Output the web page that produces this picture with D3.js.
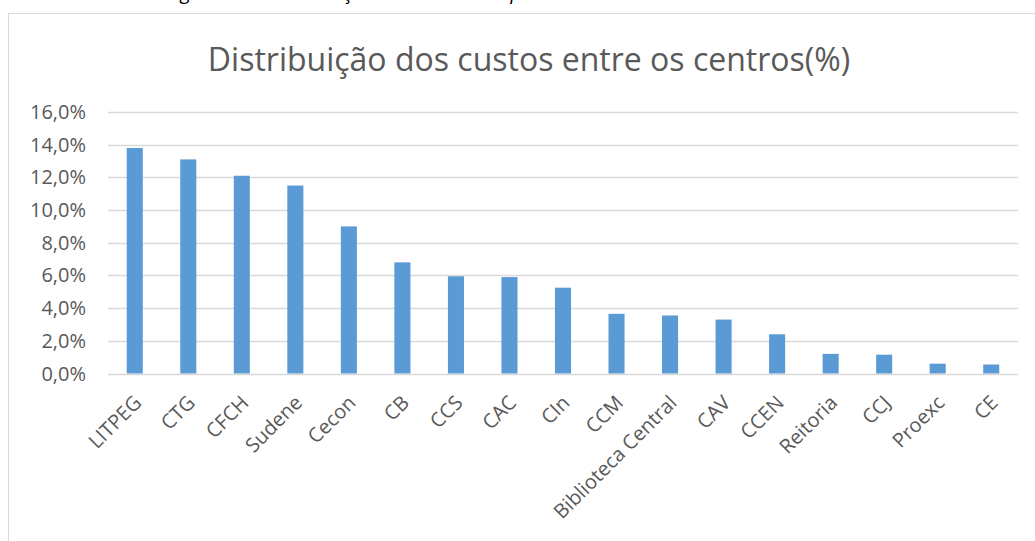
<!DOCTYPE html>
<html>
<head>
<meta charset="utf-8">
<script src="https://cdn.jsdelivr.net/npm/d3@7"></script>
<style>
  body { margin: 0; background: #fff; }
  svg { display: block; font-family: "Open Sans", sans-serif; }
</style>
</head>
<body>
<svg width="1035" height="541"></svg>
<script>
// Svg Canvas
const svg = d3.select("svg"),
    width = +svg.attr("width"),
    height = +svg.attr("height");

// Data
const centros = ["LITPEG", "CTG", "CFCH", "Sudene", "Cecon", "CB", "CCS", "CAC", "CIn",
    "CCM", "Biblioteca Central", "CAV", "CCEN", "Reitoria", "CCJ", "Proexc", "CE"];
const custos = [13.8, 13.1, 12.1, 11.5, 9.0, 6.8, 5.95, 5.9, 5.25,
    3.65, 3.55, 3.3, 2.4, 1.2, 1.15, 0.6, 0.55];
const yTicks = [0, 2, 4, 6, 8, 10, 12, 14, 16];
const title = "Distribuição dos custos entre os centros(%)";
const caption = "Figura 12 – Distribuição dos custos em percentual";

// caption from the page above, only its descenders show
svg.append("text")
    .attr("x", 166)
    .attr("y", -1)
    .attr("font-size", 20)
    .attr("font-style", "italic")
    .attr("fill", "#000")
    .text(caption);

// chart border
svg.append("rect")
    .attr("x", 8.5)
    .attr("y", 13.5)
    .attr("width", 1100)
    .attr("height", 600)
    .attr("fill", "none")
    .attr("stroke", "#d9d9d9");

// Scales
const x = d3.scaleBand()
    .domain(centros)
    .range([108, 1018])
    .paddingInner(0.7)
    .paddingOuter(0.35);

const y = d3.scaleLinear()
    .domain([0, 16])
    .range([373.5, 112]);

// grid lines
svg.append("g")
    .selectAll("line")
    .data(yTicks)
    .join("line")
        .attr("x1", 108)
        .attr("x2", 1018)
        .attr("y1", d => Math.round(y(d)) + 0.5)
        .attr("y2", d => Math.round(y(d)) + 0.5)
        .attr("stroke", "#d9d9d9")
        .attr("stroke-width", 1.3);

// y labels
svg.append("g")
    .selectAll("text")
    .data(yTicks)
    .join("text")
        .attr("x", 86)
        .attr("y", d => y(d))
        .attr("dy", "0.35em")
        .attr("text-anchor", "end")
        .attr("font-size", 20)
        .attr("fill", "#595959")
        .text(d => d3.format(".1f")(d).replace(".", ",") + "%");

// bars
svg.append("g")
    .selectAll("rect")
    .data(centros)
    .join("rect")
        .attr("x", d => x(d))
        .attr("width", x.bandwidth())
        .attr("y", (d, i) => y(custos[i]))
        .attr("height", (d, i) => y(0) - y(custos[i]))
        .attr("fill", "#5b9bd5");

// x labels
svg.append("g")
    .selectAll("text")
    .data(centros)
    .join("text")
        .attr("text-anchor", "end")
        .attr("font-size", 20)
        .attr("fill", "#595959")
        .attr("transform", d => `translate(${x(d) + x.bandwidth() / 2 + 8},404) rotate(-45)`)
        .text(d => d);

// title
svg.append("text")
    .attr("x", 529)
    .attr("y", 71)
    .attr("text-anchor", "middle")
    .attr("font-size", 32)
    .attr("fill", "#595959")
    .text(title);
</script>
</body>
</html>
